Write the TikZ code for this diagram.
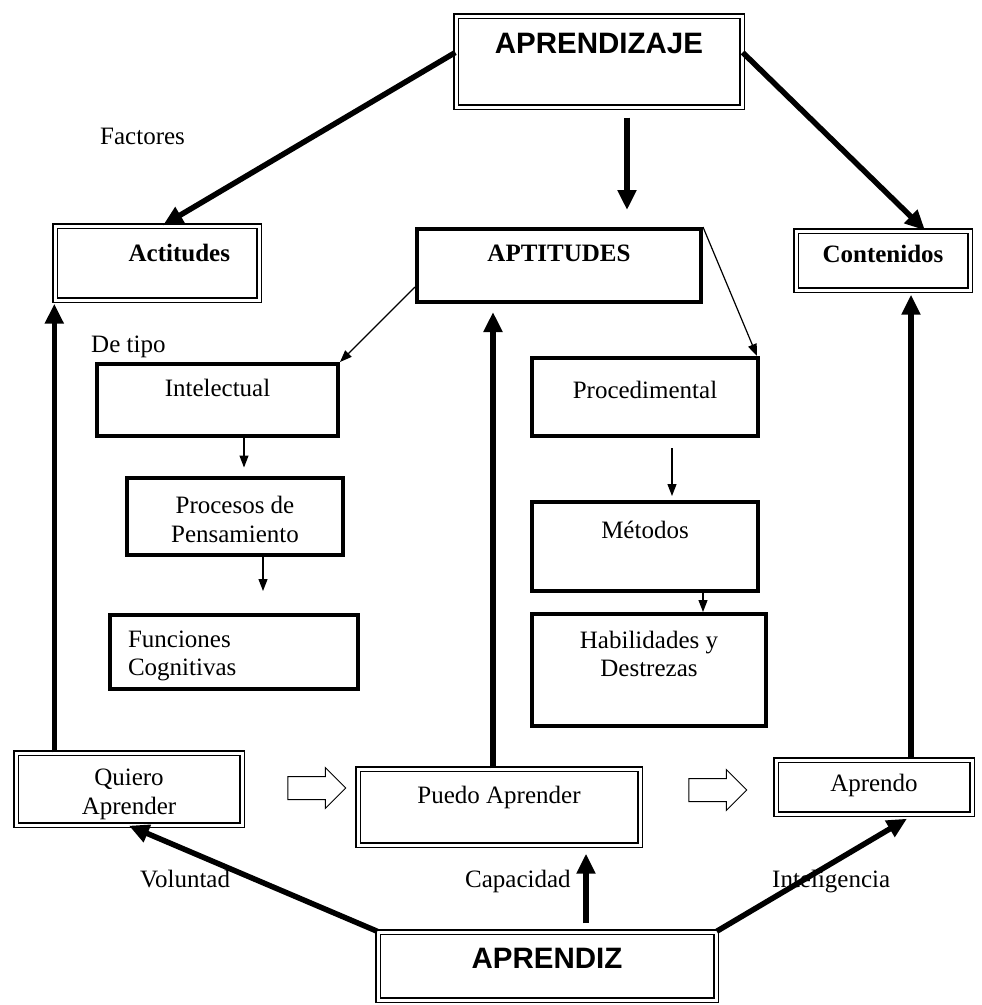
\documentclass[tikz,border=0pt]{standalone}
\usepackage{fontspec}
\setmainfont{Liberation Serif}
\newfontfamily\arialfont{Liberation Sans}
\usetikzlibrary{arrows.meta,shapes.arrows,calc}
\tikzset{
  cajabase/.style={rectangle, inner sep=0pt, font=\fontsize{25}{28.5}\selectfont, text height=16.5pt},
  caja/.style={cajabase, draw, double, line width=1.4pt, double distance=3pt},
  cajag/.style={cajabase, draw, line width=4pt},
  grande/.style={font=\arialfont\bfseries\fontsize{29.5}{34}\selectfont, text height=21pt},
  flecha/.style={line width=5.5pt, -{Triangle[length=20pt,width=18pt]}},
  fina/.style={line width=1.2pt, -{Triangle[length=12pt,width=9pt]}},
  hueca/.style={single arrow, draw, line width=1pt, minimum height=58pt, inner xsep=0pt, inner ysep=11pt, single arrow head extend=9pt},
  etiq/.style={anchor=base west, inner sep=0pt, font=\fontsize{25}{28.5}\selectfont}
}
\begin{document}
\begin{tikzpicture}[x=1pt, y=-1pt]
  \useasboundingbox (0,0) rectangle (982,1005);
  % cajas de arriba
  \node[caja, grande, minimum width=286pt, minimum height=91pt, text depth=38pt] (aprendizaje) at (599,61.5) {APRENDIZAJE};
  \node[caja, minimum width=204pt, minimum height=74pt, text depth=20pt, text width=146pt, align=right, font=\bfseries\fontsize{25}{28.5}\selectfont] (actitudes) at (157,263) {Actitudes};
  \node[cajag, minimum width=284pt, minimum height=73pt, text depth=25.5pt, font=\bfseries\fontsize{25}{28.5}\selectfont] (aptitudes) at (559,265.5) {APTITUDES};
  \node[caja, minimum width=174pt, minimum height=59pt, text depth=13.5pt, font=\bfseries\fontsize{25}{28.5}\selectfont] (contenidos) at (883,260.5) {Contenidos};
  % tipo intelectual
  \node[cajag, minimum width=241pt, minimum height=72pt, text depth=24pt] (intelectual) at (217.5,400) {Intelectual};
  \node[cajag, minimum width=216pt, minimum height=77pt, text height=51pt, text depth=0pt, align=center] (procesos) at (235,516.5) {Procesos de\\Pensamiento};
  \node[cajag, minimum width=248pt, minimum height=74pt, text depth=26.5pt, text width=212pt, align=left] (funciones) at (234,652) {Funciones\\Cognitivas};
  % tipo procedimental
  \node[cajag, minimum width=226pt, minimum height=78pt, text depth=14pt] (procedimental) at (645,397) {Procedimental};
  \node[cajag, minimum width=226pt, minimum height=89pt, text depth=32pt] (metodos) at (645,546.5) {Métodos};
  \node[cajag, minimum width=234pt, minimum height=112pt, text height=13pt, text depth=0pt, align=center] (habilidades) at (649,670) {Habilidades y\\Destrezas};
  % fila de abajo
  \node[caja, minimum width=226pt, minimum height=72pt, text height=50pt, text depth=0pt, align=center] (quiero) at (129,789) {Quiero\\Aprender};
  \node[caja, minimum width=282pt, minimum height=76pt, text depth=24pt] (puedo) at (499,807) {Puedo Aprender};
  \node[caja, minimum width=196pt, minimum height=54pt, text depth=7pt] (aprendo) at (874,787) {Aprendo};
  \node[caja, grande, minimum width=338pt, minimum height=68pt, text depth=16pt] (aprendiz) at (547,966) {APRENDIZ};
  \node[hueca] (h1) at (311,788) {};
  \node[hueca] (h2) at (712,790) {};
  % etiquetas
  \node[etiq] (factores) at (100,144) {Factores};
  \node[etiq] (detipo) at (91,352) {De tipo};
  \node[etiq] (voluntad) at (140,887) {Voluntad};
  \node[etiq] (capacidad) at (465,887) {Capacidad};
  \node[etiq] (inteligencia) at (772,887) {Inteligencia};
  % flechas gruesas
  \draw[flecha] ($(aprendizaje.west)+(0,-9)$) -- ($(actitudes.north)+(6,0)$);
  \draw[flecha] ($(aprendizaje.east)+(0,-9)$) -- ($(contenidos.north)+(42,0)$);
  \draw[flecha] ($(aprendizaje.south)+(28,10)$) -- ($(aptitudes.north)+(68,-17)$);
  \draw[flecha] (quiero.north -| actitudes.south west) -- ($(actitudes.south west)+(0,3)$);
  \draw[flecha] ($(puedo.north)+(-6,0)$) -- ($(puedo.north |- aptitudes.south)+(-6,8)$);
  \draw[flecha] ($(aprendo.north)+(37,0)$) -- ($(aprendo.north |- contenidos.south)+(37,4)$);
  \draw[flecha] (aprendiz.north west) -- (quiero.south);
  \draw[flecha] ($(aprendiz.north)+(39,-8)$) -- ($(aprendiz.north |- puedo.south)+(39,8)$);
  \draw[flecha] (aprendiz.north east) -- ($(aprendo.south)+(33,4)$);
  % flechas finas
  \draw[fina] ($(aptitudes.west)+(0,21.5)$) -- (intelectual.north east);
  \draw[fina] (aptitudes.north east) -- ($(procedimental.north east)+(-3,0)$);
  \draw[fina] ($(intelectual.south)+(26.5,0)$) -- ($(procesos.north)+(9,-8.5)$);
  \draw[fina] ($(procesos.south)+(28,0)$) -- ($(funciones.north)+(29,-22)$);
  \draw[fina] ($(procedimental.south)+(27,10)$) -- ($(metodos.north)+(27,-4)$);
  \draw[fina] ($(metodos.south)+(58,0)$) -- ($(habilidades.north)+(54,0)$);
\end{tikzpicture}
\end{document}
